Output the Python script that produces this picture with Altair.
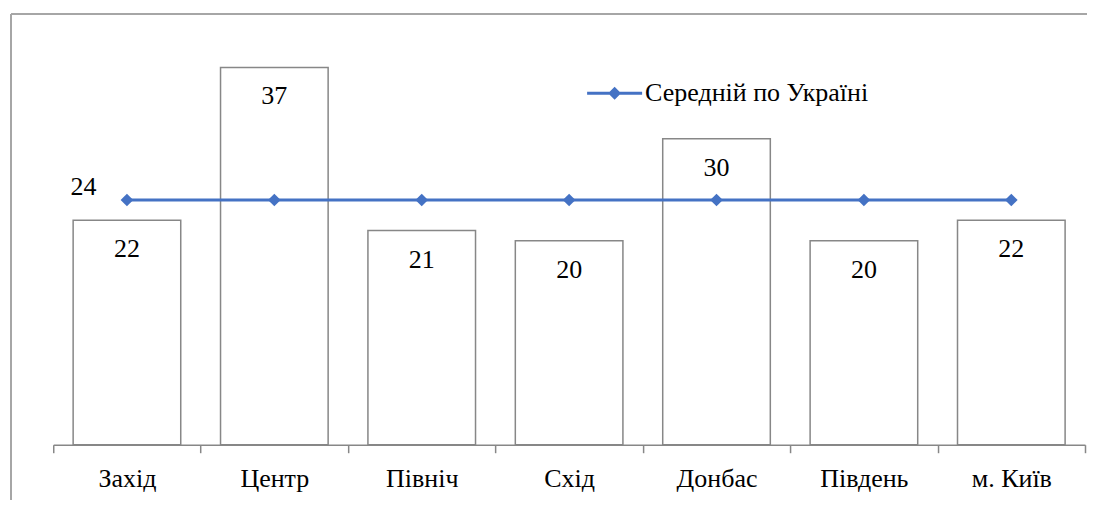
import altair as alt
import pandas as pd

regions = ["Захід", "Центр", "Північ", "Схід", "Донбас", "Південь", "м. Київ"]
values = [22, 37, 21, 20, 30, 20, 22]
average = [24, 24, 24, 24, 24, 24, 24]
series_name = "Середній по Україні"

df = pd.DataFrame({"region": regions, "value": values, "avg": average,
                   "series": [series_name] * len(regions)})
df["avg_label"] = ["24"] + [""] * (len(regions) - 1)

FONT = ("'Liberation Serif', 'Times New Roman', Times, Tinos, 'Nimbus Roman', "
        "'Nimbus Roman No9 L', FreeSerif, 'Noto Serif', 'DejaVu Serif', Georgia, serif")
GRAY = "#878787"
BLUE = "#4472C4"

x = alt.X("region:N", sort=regions,
          scale=alt.Scale(paddingInner=0, paddingOuter=0),
          axis=alt.Axis(title=None, labelAngle=0, labelFont=FONT, labelFontSize=26,
                        labelColor="black", labelPadding=12.5, domainColor=GRAY,
                        domainWidth=1.5, tickColor=GRAY, tickWidth=1.5, tickSize=8,
                        tickBand="extent"))
y_scale = alt.Scale(domain=[0, 40], nice=False)

base = alt.Chart(df)

bars = base.mark_bar(fill="white", stroke=GRAY, strokeWidth=1.5,
                     width={"band": 0.73}).encode(
    x=x, y=alt.Y("value:Q", scale=y_scale, axis=None))

bar_text = base.mark_text(font=FONT, fontSize=26, baseline="alphabetic", dy=37,
                          color="black").encode(
    x=alt.X("region:N", sort=regions), y=alt.Y("value:Q"), text="value:Q")

line = base.mark_line(color=BLUE, strokeWidth=3).encode(
    x=alt.X("region:N", sort=regions), y=alt.Y("avg:Q"))

legend_path = ("M-1,-0.055L-0.181,-0.055L0,-0.236L0.181,-0.055L1,-0.055L1,0.055"
               "L0.181,0.055L0,0.236L-0.181,0.055L-1,0.055Z")

points = base.mark_point(filled=True, shape="diamond", size=160, opacity=1).encode(
    x=alt.X("region:N", sort=regions), y=alt.Y("avg:Q"),
    color=alt.Color("series:N", scale=alt.Scale(domain=[series_name], range=[BLUE]),
                    legend=alt.Legend(title=None, orient="none", legendX=534, legendY=29,
                                      symbolType=legend_path, symbolSize=3025,
                                      symbolStrokeWidth=0, symbolOpacity=1,
                                      labelFont=FONT, labelFontSize=26,
                                      labelColor="black", labelOffset=3,
                                      labelLimit=400)))

avg_text = base.mark_text(font=FONT, fontSize=26, baseline="alphabetic", align="center",
                          dx=-43.5, dy=-5, color="black").encode(
    x=alt.X("region:N", sort=regions), y=alt.Y("avg:Q"), text="avg_label:N")

# outer frame (decoration): top and left edges
frame_top = alt.Chart().mark_rule(color="#a6a6a6", strokeWidth=1.5).encode(
    x=alt.value(-42), x2=alt.value(1034), y=alt.value(-22.5))
frame_left = alt.Chart().mark_rule(color="#a6a6a6", strokeWidth=1.5).encode(
    x=alt.value(-42), y=alt.value(-22.5), y2=alt.value(463))

chart = alt.layer(frame_top, frame_left, bars, bar_text, line, points, avg_text, data=df).properties(
    width=1032, height=408,
    padding={"left": 2.25, "top": 4.75, "right": 0, "bottom": 0},
).configure_view(stroke=None)

chart.save("out.html", embed_options={"renderer": "svg", "actions": False})
